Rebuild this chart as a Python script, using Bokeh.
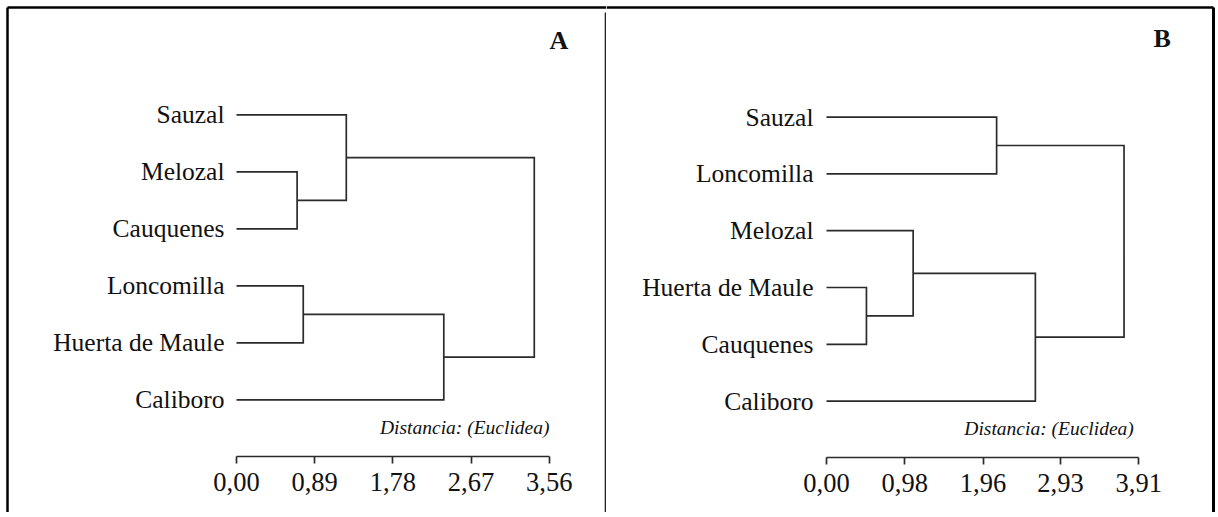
from bokeh.plotting import figure
from bokeh.layouts import row
from bokeh.models import Range1d, FixedTicker
from bokeh.core.properties import value
from bokeh.embed import file_html
from bokeh.resources import INLINE

# ---------------- data ----------------
# Panel A
a_leaves = ["Sauzal", "Melozal", "Cauquenes", "Loncomilla", "Huerta de Maule", "Caliboro"]
a_merge_left = [1, 0, 3, 8, 7]
a_merge_right = [2, 6, 4, 5, 9]
a_merge_height = [0.69, 1.25, 0.76, 2.36, 3.39]
a_ticks = [0.0, 0.89, 1.78, 2.67, 3.56]
a_tick_labels = ["0,00", "0,89", "1,78", "2,67", "3,56"]

# Panel B
b_leaves = ["Sauzal", "Loncomilla", "Melozal", "Huerta de Maule", "Cauquenes", "Caliboro"]
b_merge_left = [3, 2, 0, 7, 8]
b_merge_right = [4, 6, 1, 5, 9]
b_merge_height = [0.50, 1.085, 2.13, 2.615, 3.725]
b_ticks = [0.0, 0.98, 1.96, 2.93, 3.91]
b_tick_labels = ["0,00", "0,98", "1,96", "2,93", "3,91"]

distance_label = "Distancia: (Euclidea)"
letters = ["A", "B"]

SERIF = "Liberation Serif"
LINE = "#2b2b2b"
H = 512


def panel(leaves, mleft, mright, mheight, ticks, tick_labels, letter,
          width, x0, ppu, y0, prow, axis_px, letter_pos, dist_pos, gap,
          left_border, right_border, divider):
    # x: data 0 at canvas px x0, ppu px per unit; y: leaf 0 at canvas px y0, prow px per row
    xr = Range1d(-x0 / ppu, (width - x0) / ppu)
    yr = Range1d((H - y0) / prow, -y0 / prow)
    p = figure(width=width, height=H, x_range=xr, y_range=yr,
               output_backend="svg", toolbar_location=None,
               y_axis_location=None, min_border=0)
    p.outline_line_color = None
    p.grid.visible = False
    p.background_fill_color = "white"
    p.border_fill_color = "white"

    def dx(px):
        return (px - x0) / ppu

    def dy(px):
        return (px - y0) / prow

    # dendrogram
    n = len(leaves)
    pos_x = [0.0] * n
    pos_y = [float(i) for i in range(n)]
    xs, ys = [], []
    for l, r, h in zip(mleft, mright, mheight):
        xs.append([pos_x[l], h, h, pos_x[r]])
        ys.append([pos_y[l], pos_y[l], pos_y[r], pos_y[r]])
        pos_x.append(h)
        pos_y.append((pos_y[l] + pos_y[r]) / 2)
    p.multi_line(xs, ys, line_color=LINE, line_width=1.7, line_join="miter")

    # leaf labels
    p.text(x=[-gap / ppu] * n, y=list(range(n)), text=leaves,
           text_font=value(SERIF), text_font_size="25.5px",
           text_align="right", text_baseline="middle", text_color="#111111")

    # panel letter
    p.text(x=[dx(letter_pos[0])], y=[dy(letter_pos[1])], text=[letter],
           text_font=value(SERIF), text_font_size="26px", text_font_style="bold",
           text_align="center", text_baseline="middle", text_color="#111111")

    # distance note
    p.text(x=[dx(dist_pos[0])], y=[dy(dist_pos[1])], text=[distance_label],
           text_font=value(SERIF), text_font_size="19.5px", text_font_style="italic",
           text_align="right", text_baseline="middle", text_color="#111111")

    # axis
    ax = p.xaxis[0]
    ax.fixed_location = dy(axis_px)
    ax.bounds = (ticks[0], ticks[-1])
    ax.ticker = FixedTicker(ticks=ticks, minor_ticks=[])
    ax.major_label_overrides = {t: s for t, s in zip(ticks, tick_labels)}
    ax.axis_line_color = LINE
    ax.axis_line_width = 1.7
    ax.major_tick_line_color = LINE
    ax.major_tick_line_width = 1.7
    ax.major_tick_in = 0
    ax.major_tick_out = 7
    ax.minor_tick_line_color = None
    ax.major_label_standoff = 9
    ax.major_label_text_font = SERIF
    ax.major_label_text_font_size = "26.5px"
    ax.major_label_text_color = "#111111"

    # frame lines (outer border and divider)
    top = dy(7)
    p.segment(x0=[dx(left_border if left_border is not None else 0)], y0=[top],
              x1=[dx(right_border if right_border is not None else width)], y1=[top],
              line_color="black", line_width=2.5)
    if left_border is not None:
        p.segment(x0=[dx(left_border)], y0=[top], x1=[dx(left_border)], y1=[dy(H)],
                  line_color="black", line_width=2.5)
    if right_border is not None:
        p.segment(x0=[dx(right_border)], y0=[top], x1=[dx(right_border)], y1=[dy(H)],
                  line_color="black", line_width=3)
    if divider is not None:
        p.segment(x0=[dx(divider)], y0=[dy(12)], x1=[dx(divider)], y1=[dy(H)],
                  line_color="#222222", line_width=1.6)
    return p


pa = panel(a_leaves, a_merge_left, a_merge_right, a_merge_height, a_ticks, a_tick_labels,
           letters[0], width=606, x0=236, ppu=312.7 / 3.56, y0=114.3, prow=57.0,
           axis_px=456, letter_pos=(558.3, 40), dist_pos=(549, 427), gap=12,
           left_border=7, right_border=None, divider=605)

pb = panel(b_leaves, b_merge_left, b_merge_right, b_merge_height, b_ticks, b_tick_labels,
           letters[1], width=610, x0=220, ppu=312.3 / 3.91, y0=116.6, prow=56.8,
           axis_px=457.3, letter_pos=(555.7, 37.5), dist_pos=(527.3, 428), gap=13,
           left_border=None, right_border=607, divider=None)

layout = row(pa, pb)
open("out.html", "w").write(file_html(layout, INLINE))
